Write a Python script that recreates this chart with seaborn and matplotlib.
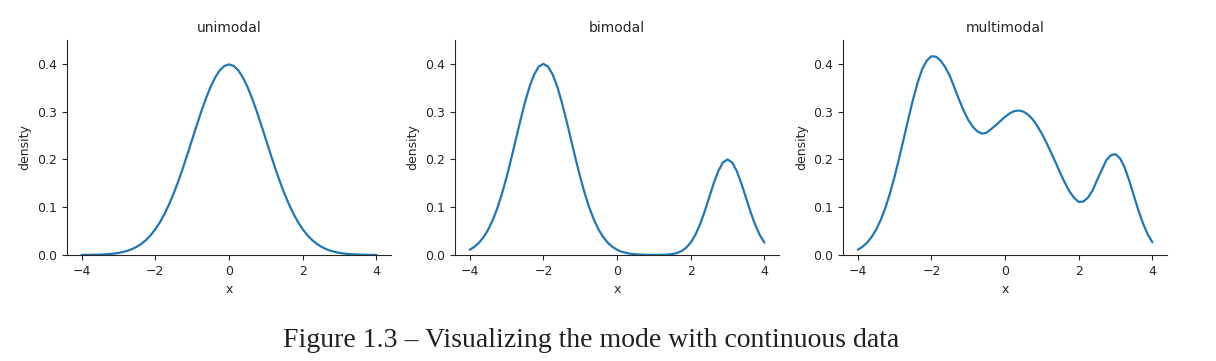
import matplotlib
matplotlib.use("Agg")
import matplotlib.pyplot as plt
import seaborn as sns

# x grid the curves were read at (step 0.125 from -4 to 4)
x_vals = [-4.0, -3.875, -3.75, -3.625, -3.5, -3.375, -3.25, -3.125,
          -3.0, -2.875, -2.75, -2.625, -2.5, -2.375, -2.25, -2.125,
          -2.0, -1.875, -1.75, -1.625, -1.5, -1.375, -1.25, -1.125,
          -1.0, -0.875, -0.75, -0.625, -0.5, -0.375, -0.25, -0.125,
          0.0, 0.125, 0.25, 0.375, 0.5, 0.625, 0.75, 0.875,
          1.0, 1.125, 1.25, 1.375, 1.5, 1.625, 1.75, 1.875,
          2.0, 2.125, 2.25, 2.375, 2.5, 2.625, 2.75, 2.875,
          3.0, 3.125, 3.25, 3.375, 3.5, 3.625, 3.75, 3.875, 4.0]

# density values
unimodal = [0.0001, 0.0002, 0.0004, 0.0006, 0.0009, 0.0013, 0.0020, 0.0030,
            0.0044, 0.0064, 0.0091, 0.0127, 0.0175, 0.0238, 0.0317, 0.0417,
            0.0540, 0.0688, 0.0863, 0.1065, 0.1295, 0.1550, 0.1826, 0.2119,
            0.2420, 0.2720, 0.3011, 0.3281, 0.3521, 0.3718, 0.3867, 0.3958,
            0.3989, 0.3958, 0.3867, 0.3718, 0.3521, 0.3281, 0.3011, 0.2720,
            0.2420, 0.2119, 0.1826, 0.1550, 0.1295, 0.1065, 0.0863, 0.0688,
            0.0540, 0.0417, 0.0317, 0.0238, 0.0175, 0.0127, 0.0091, 0.0064,
            0.0044, 0.0030, 0.0020, 0.0013, 0.0009, 0.0006, 0.0004, 0.0002, 0.0001]

bimodal = [0.0110, 0.0170, 0.0256, 0.0374, 0.0531, 0.0733, 0.0984, 0.1284,
           0.1630, 0.2012, 0.2414, 0.2817, 0.3196, 0.3526, 0.3780, 0.3944,
           0.4000, 0.3944, 0.3780, 0.3526, 0.3196, 0.2817, 0.2414, 0.2012,
           0.1630, 0.1284, 0.0984, 0.0733, 0.0531, 0.0374, 0.0256, 0.0170,
           0.0110, 0.0069, 0.0043, 0.0025, 0.0015, 0.0008, 0.0005, 0.0002,
           0.0002, 0.0002, 0.0004, 0.0009, 0.0020, 0.0042, 0.0082, 0.0151,
           0.0260, 0.0419, 0.0635, 0.0901, 0.1201, 0.1501, 0.1760, 0.1937,
           0.2000, 0.1937, 0.1760, 0.1501, 0.1201, 0.0901, 0.0635, 0.0419, 0.0260]

multimodal = [0.0110, 0.0171, 0.0257, 0.0376, 0.0533, 0.0737, 0.0990, 0.1293,
              0.1643, 0.2032, 0.2443, 0.2858, 0.3254, 0.3607, 0.3892, 0.4070,
              0.4160, 0.4150, 0.4070, 0.3930, 0.3749, 0.3502, 0.3252, 0.3021,
              0.2827, 0.2684, 0.2585, 0.2540, 0.2560, 0.2638, 0.2717, 0.2806,
              0.2893, 0.2965, 0.3011, 0.3025, 0.3001, 0.2938, 0.2838, 0.2701,
              0.2536, 0.2347, 0.2142, 0.1931, 0.1712, 0.1510, 0.1330, 0.1195,
              0.1110, 0.1120, 0.1200, 0.1350, 0.1571, 0.1780, 0.1986, 0.2090,
              0.2110, 0.2020, 0.1827, 0.1548, 0.1234, 0.0924, 0.0651, 0.0429, 0.0267]

titles = ["unimodal", "bimodal", "multimodal"]
caption = "Figure 1.3 \u2013 Visualizing the mode with continuous data"

sns.set_style("ticks")
plt.rcParams['font.family'] = ['DejaVu Sans']

fig = plt.figure(figsize=(12.16, 3.61), dpi=100)
lefts = [0.0551, 0.3742, 0.6933]
axes = [fig.add_axes([l, 0.2936, 0.2665, 0.5956]) for l in lefts]

for ax, title, vals in zip(axes, titles, [unimodal, bimodal, multimodal]):
    sns.lineplot(x=x_vals, y=vals, ax=ax, color="#1f77b4", linewidth=1.6)
    ax.set_xlim(-4.4, 4.4)
    ax.set_ylim(0, 0.45)
    ax.set_xticks([-4, -2, 0, 2, 4])
    ax.set_yticks([0.0, 0.1, 0.2, 0.3, 0.4])
    ax.set_title(title, fontsize=10)
    ax.set_xlabel("x", fontsize=9)
    ax.set_ylabel("density", fontsize=9)
    ax.tick_params(labelsize=9)
    sns.despine(ax=ax)

fig.text(0.486, 0.058, caption, ha="center", va="center",
         family="Liberation Serif", fontsize=20, color="#231f20")

fig.savefig("out.png", dpi=100)
